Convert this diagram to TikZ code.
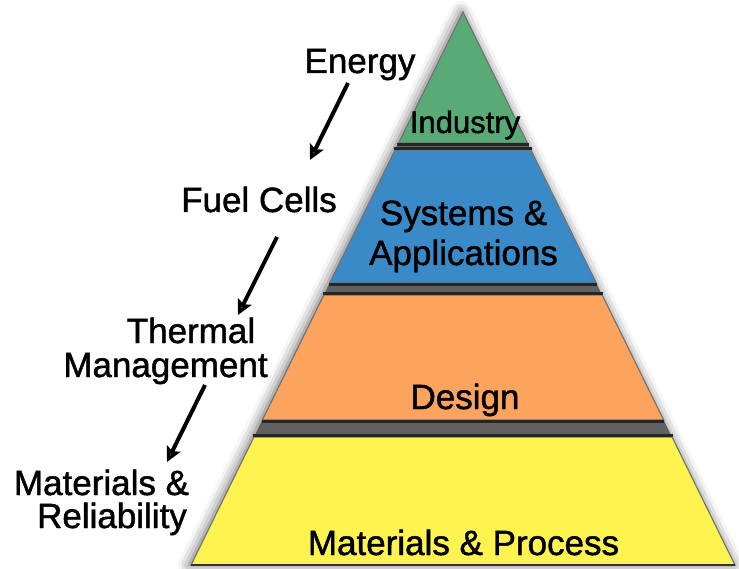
\documentclass[tikz,border=0pt]{standalone}
\usepackage{fontspec}
\setmainfont{Liberation Sans}
\newfontfamily\pyrfont[FakeBold=1.3]{Liberation Sans}
\usetikzlibrary{arrows.meta,shadows.blur}
\definecolor{industry}{RGB}{88,170,118}
\definecolor{systems}{RGB}{58,138,200}
\definecolor{design}{RGB}{252,163,94}
\definecolor{process}{RGB}{255,243,80}
\tikzset{
  lvltext/.style={font=\pyrfont\fontsize{35}{38}\selectfont, anchor=base, inner sep=0pt},
  flowarrow/.style={line width=4pt, -{Stealth[length=15pt,width=15pt,inset=3pt]}},
  layeredge/.style={draw=black!55, line width=1.2pt},
  gapedge/.style={draw=black!85, line width=3pt}
}
\begin{document}
\begin{tikzpicture}[x=1pt,y=-1pt]
    \useasboundingbox (0,0) rectangle (739,569);
    \fill[fill=black!62, blur shadow={shadow xshift=-2pt, shadow yshift=0pt, shadow blur radius=11pt, shadow opacity=60}]
      (463,12) -- (191,565) -- (735,565) -- cycle;
    \fill[fill=industry, layeredge] (463,12) -- (398.6,143) -- (527.4,143) -- cycle;
    \fill[fill=systems, layeredge] (395.1,150) -- (530.9,150) -- (596.3,283) -- (329.7,283) -- cycle;
    \fill[fill=design, layeredge] (323.8,295) -- (602.2,295) -- (663.7,420) -- (262.3,420) -- cycle;
    \fill[fill=process, layeredge] (253.9,437) -- (672.1,437) -- (735,565) -- (191,565) -- cycle;
    \draw[gapedge] (397,144.5) -- (529,144.5);
    \draw[gapedge] (394,148.5) -- (532,148.5);
    \draw[gapedge] (329,284.5) -- (597,284.5);
    \draw[gapedge] (323,293.5) -- (603,293.5);
    \draw[gapedge] (262,421.5) -- (664,421.5);
    \draw[gapedge] (253,435.5) -- (673,435.5);
    \draw[draw=black!80, line width=1.5pt] (191,565) -- (735,565);
    \node[lvltext, font=\pyrfont\fontsize{31}{33}\selectfont] (industry) at (465,133) {Industry};
    \node[lvltext] (systems) at (463.5,225) {Systems \&};
    \node[lvltext] (applications) at (463.5,265) {Applications};
    \node[lvltext] (design) at (465,409) {Design};
    \node[lvltext] (process) at (463.5,555) {Materials \& Process};
    \node[lvltext] (energy) at (360,73) {Energy};
    \node[lvltext] (fuelcells) at (259,212) {Fuel Cells};
    \node[lvltext] (thermal) at (191,343) {Thermal};
    \node[lvltext] (management) at (165.5,377) {Management};
    \node[lvltext] (materials) at (101.5,495) {Materials \&};
    \node[lvltext] (reliability) at (112,528) {Reliability};
    \coordinate (e0) at (348,83);
    \coordinate (e1) at (310,160);
    \coordinate (f0) at (277,237);
    \coordinate (f1) at (238,315);
    \coordinate (t0) at (205,385);
    \coordinate (t1) at (167,462);
    \draw[flowarrow] (e0) -- (e1);
    \draw[flowarrow] (f0) -- (f1);
    \draw[flowarrow] (t0) -- (t1);
  \end{tikzpicture}
\end{document}
